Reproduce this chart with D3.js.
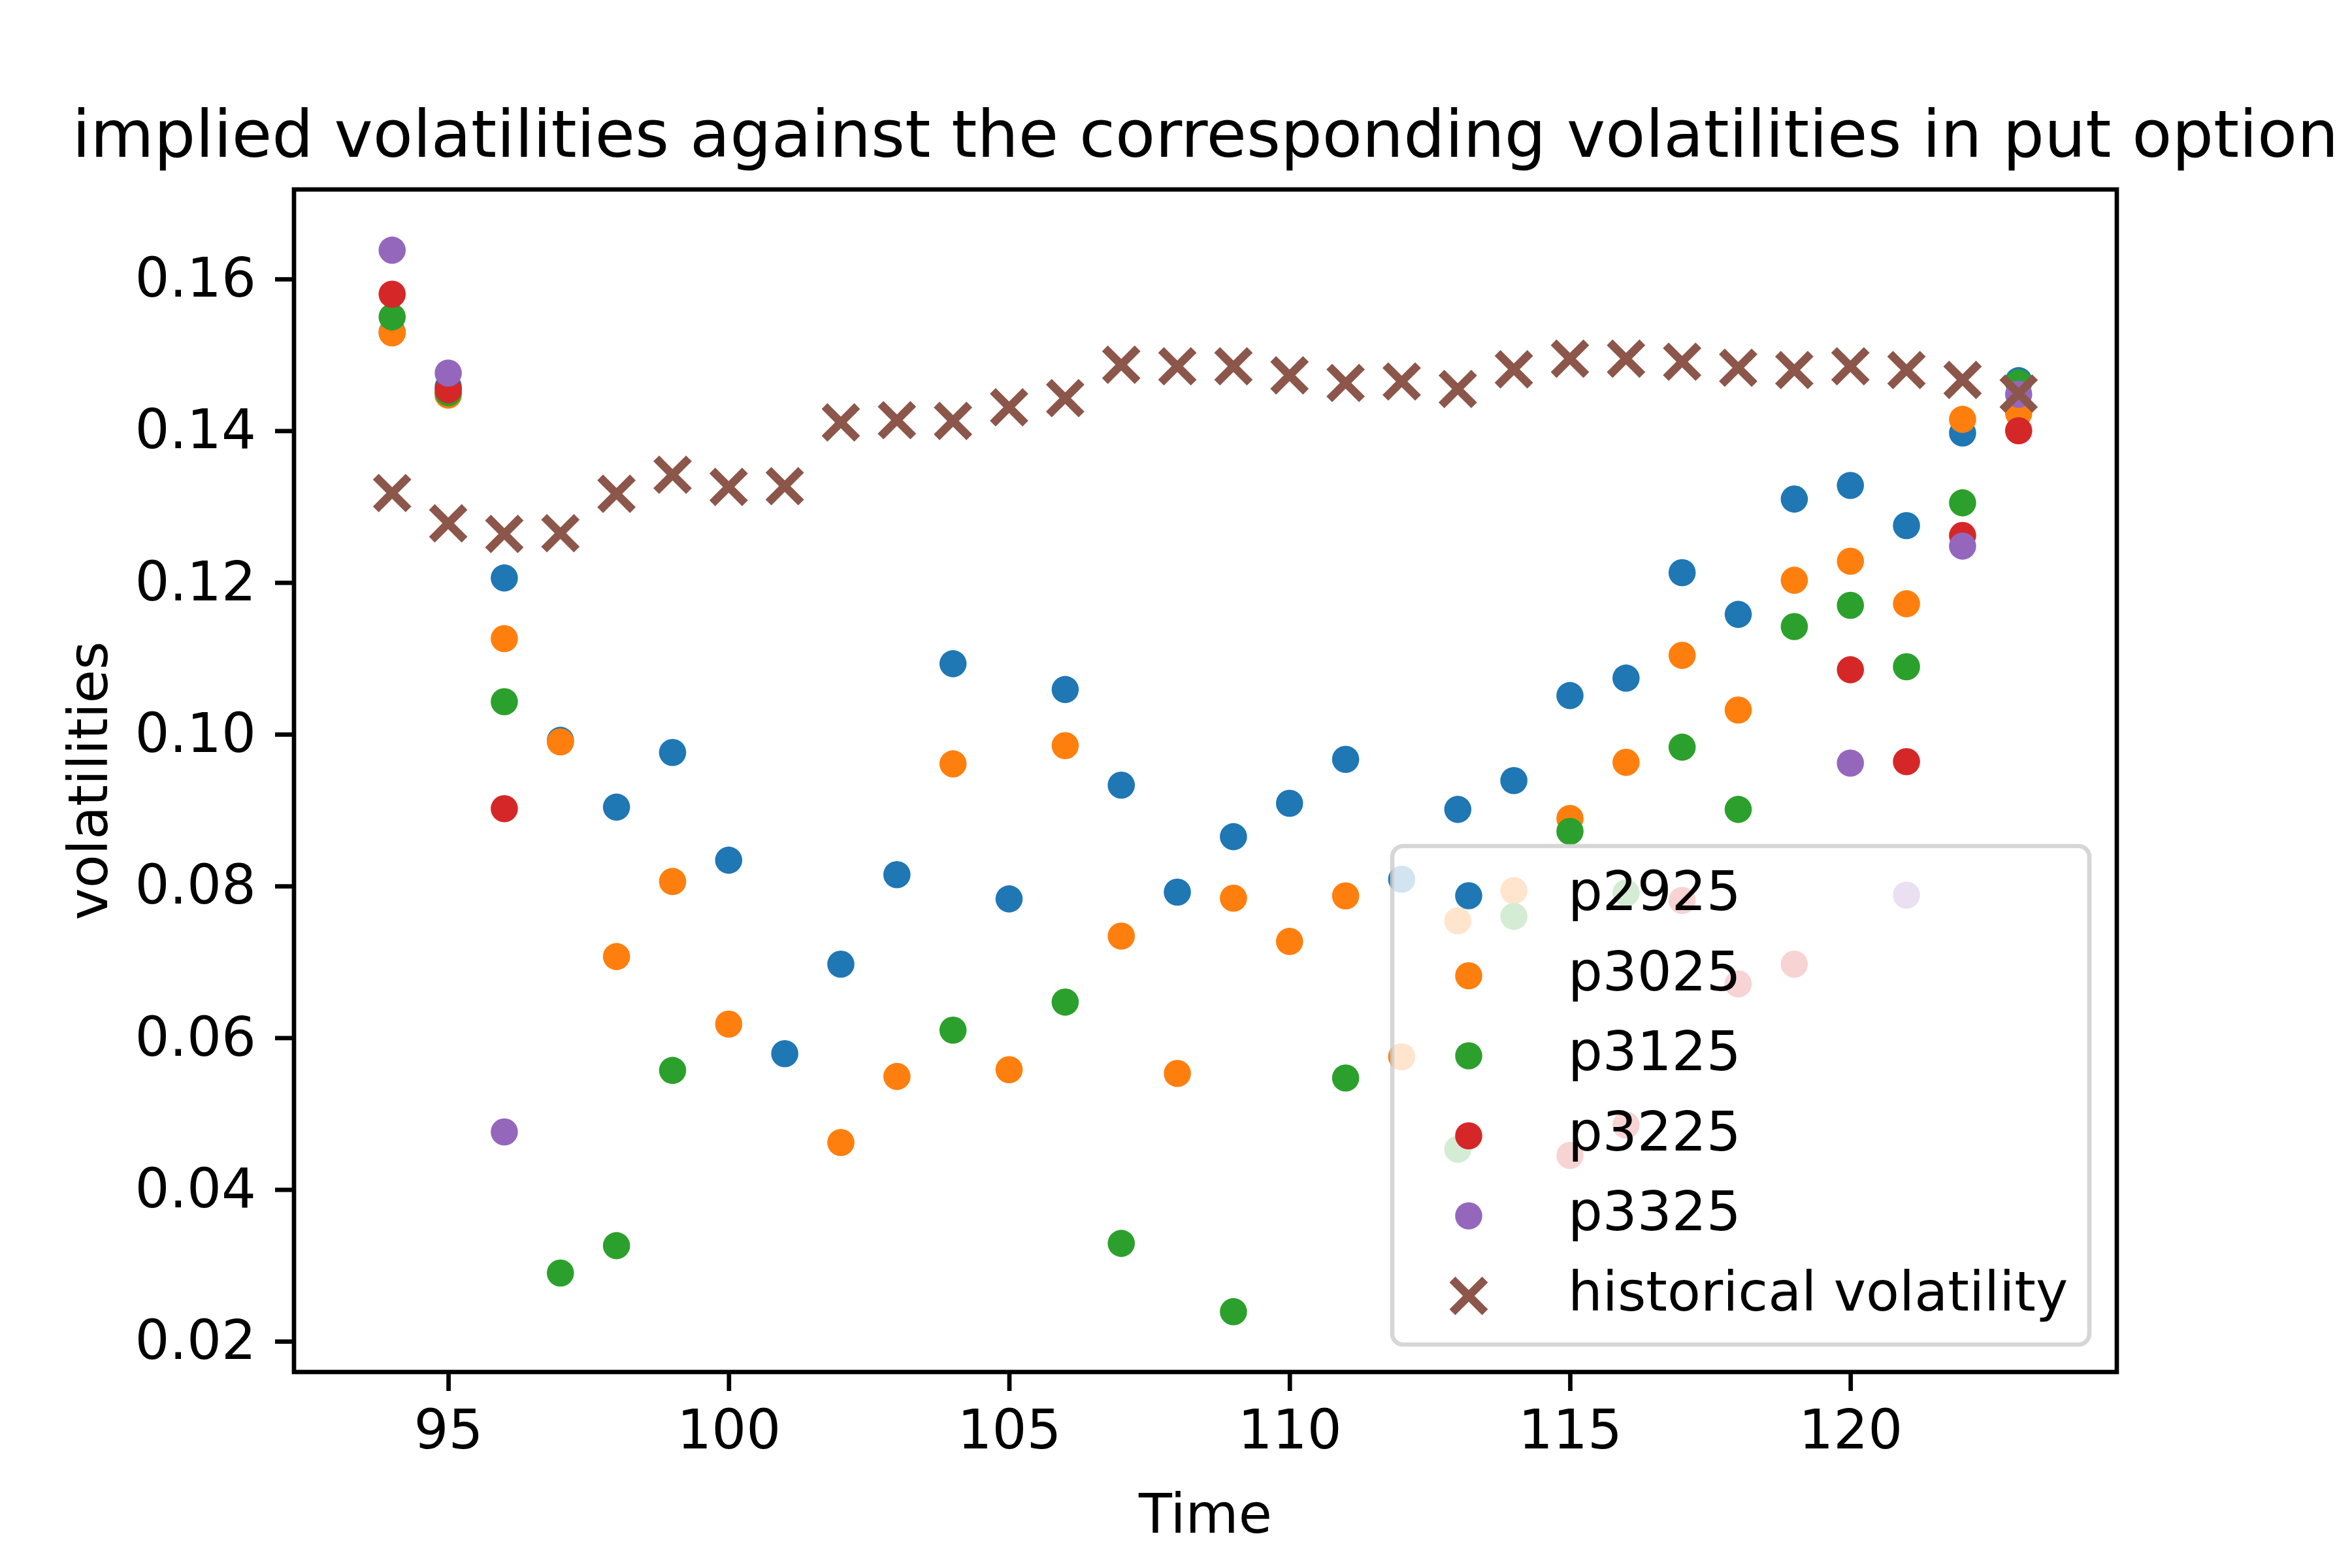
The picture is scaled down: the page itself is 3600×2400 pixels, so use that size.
<!DOCTYPE html>
<html>
<head>
<meta charset="utf-8">
<script src="https://cdn.jsdelivr.net/npm/d3@7"></script>
<style>
  body { margin: 0; background: #fff; }
  svg { display: block; }
  text { font-family: "DejaVu Sans", sans-serif; fill: #000; }
</style>
</head>
<body>
<svg id="chart" width="3600" height="2400"></svg>
<script>
// data (null = no point drawn)
var time = [94, 95, 96, 97, 98, 99, 100, 101, 102, 103, 104, 105, 106, 107, 108,
            109, 110, 111, 112, 113, 114, 115, 116, 117, 118, 119, 120, 121, 122, 123];

var p2925 = [0.1530, 0.1458, 0.1206, 0.0992, 0.0904, 0.0976, 0.0834, 0.0579, 0.0697, 0.0815,
             0.1093, 0.0783, 0.1059, 0.0933, 0.0792, 0.0865, 0.0909, 0.0967, 0.0809, 0.0901,
             0.0939, 0.1051, 0.1074, 0.1213, 0.1158, 0.1310, 0.1328, 0.1275, 0.1397, 0.1466];
var p3025 = [0.1529, 0.1447, 0.1126, 0.0990, 0.0707, 0.0806, 0.0618, null, 0.0462, 0.0549,
             0.0961, 0.0558, 0.0985, 0.0734, 0.0553, 0.0784, 0.0727, 0.0787, 0.0575, 0.0754,
             0.0794, 0.0889, 0.0963, 0.1104, 0.1032, 0.1203, 0.1228, 0.1172, 0.1415, 0.1423];
var p3125 = [0.1550, 0.1450, 0.1043, 0.0290, 0.0326, 0.0557, null, null, null, null,
             0.0610, null, 0.0647, 0.0329, null, 0.0239, null, 0.0547, null, 0.0453,
             0.0760, 0.0872, 0.0791, 0.0983, 0.0901, 0.1142, 0.1170, 0.1089, 0.1305, 0.1463];
var p3225 = [0.1580, 0.1454, 0.0902, null, null, null, null, null, null, null,
             null, null, null, null, null, null, null, null, null, null,
             null, 0.0445, 0.0485, 0.0781, 0.0671, 0.0697, 0.1085, 0.0964, 0.1262, 0.1400];
var p3325 = [0.1638, 0.1476, 0.0476, null, null, null, null, null, null, null,
             null, null, null, null, null, null, null, null, null, null,
             null, null, null, null, null, null, 0.0962, 0.0788, 0.1248, 0.1448];
var histVol = [0.1318, 0.1278, 0.1264, 0.1265, 0.1317, 0.1342, 0.1326, 0.1327, 0.1411, 0.1414,
               0.1413, 0.1431, 0.1443, 0.1487, 0.1485, 0.1485, 0.1473, 0.1463, 0.1465, 0.1455,
               0.1481, 0.1495, 0.1495, 0.1491, 0.1483, 0.1480, 0.1485, 0.1480, 0.1467, 0.1449];

var seriesNames = ["p2925", "p3025", "p3125", "p3225", "p3325"];
var seriesValues = [p2925, p3025, p3125, p3225, p3325];
var histName = "historical volatility";

var xTicks = [95, 100, 105, 110, 115, 120];
var yTicks = [0.02, 0.04, 0.06, 0.08, 0.10, 0.12, 0.14, 0.16];

var colors = ["#1f77b4", "#ff7f0e", "#2ca02c", "#d62728", "#9467bd", "#8c564b"];

// layout (pixels of the 3600x2400 page)
var axL = 450, axR = 3240, axT = 290, axB = 2100;
var fs = 83.3;          // 10pt at 600 dpi
var dotR = 20.8;
var crossA = 25, crossW = 12.5;

var svg = d3.select("#chart");

var x = d3.scaleLinear().domain([92.25, 124.75]).range([axL, axR]);
var y = d3.scaleLinear().domain([0.01595, 0.1718]).range([axB, axT]);

var plot = svg.append("g");

seriesValues.forEach(function(vals, i) {
  var pts = time.map(function(t, j) { return {t: t, v: vals[j]}; })
                .filter(function(d) { return d.v !== null; });
  plot.append("g").selectAll("circle")
    .data(pts)
    .enter().append("circle")
    .attr("cx", function(d) { return x(d.t); })
    .attr("cy", function(d) { return y(d.v); })
    .attr("r", dotR)
    .attr("fill", colors[i]);
});

function crossPath(cx, cy) {
  return "M" + (cx - crossA) + "," + (cy - crossA) + "L" + (cx + crossA) + "," + (cy + crossA) +
         "M" + (cx - crossA) + "," + (cy + crossA) + "L" + (cx + crossA) + "," + (cy - crossA);
}

plot.append("g").selectAll("path")
  .data(time.map(function(t, j) { return {t: t, v: histVol[j]}; }))
  .enter().append("path")
  .attr("d", function(d) { return crossPath(x(d.t), y(d.v)); })
  .attr("stroke", colors[5])
  .attr("stroke-width", crossW)
  .attr("fill", "none");

// axes
var xAxis = svg.append("g")
  .attr("transform", "translate(0," + axB + ")")
  .call(d3.axisBottom(x).tickValues(xTicks).tickSize(29).tickPadding(29).tickFormat(d3.format("d")));
var yAxis = svg.append("g")
  .attr("transform", "translate(" + axL + ",0)")
  .call(d3.axisLeft(y).tickValues(yTicks).tickSize(29).tickPadding(29).tickFormat(d3.format(".2f")));

[xAxis, yAxis].forEach(function(g) {
  g.select(".domain").remove();
  g.selectAll(".tick line").attr("stroke", "#000").attr("stroke-width", 6.7);
  g.selectAll(".tick text").attr("font-size", fs).attr("font-family", "DejaVu Sans");
});

svg.append("rect")
  .attr("x", axL).attr("y", axT)
  .attr("width", axR - axL).attr("height", axB - axT)
  .attr("fill", "none").attr("stroke", "#000").attr("stroke-width", 6.7);

// labels
svg.append("text")
  .attr("x", (axL + axR) / 2).attr("y", 240)
  .attr("text-anchor", "middle").attr("font-size", 100)
  .text("implied volatilities against the corresponding volatilities in put option");

svg.append("text")
  .attr("x", (axL + axR) / 2).attr("y", 2346)
  .attr("text-anchor", "middle").attr("font-size", fs)
  .text("Time");

svg.append("text")
  .attr("transform", "translate(164," + ((axT + axB) / 2) + ") rotate(-90)")
  .attr("text-anchor", "middle").attr("font-size", fs)
  .text("volatilities");

// legend
var legX = 2131, legY = 1295, legW = 3198 - 2131, legH = 2058 - 1295;
var leg = svg.append("g");
leg.append("rect")
  .attr("x", legX).attr("y", legY).attr("width", legW).attr("height", legH)
  .attr("rx", 16.7).attr("ry", 16.7)
  .attr("fill", "#fff").attr("fill-opacity", 0.8)
  .attr("stroke", "#cccccc").attr("stroke-opacity", 0.8).attr("stroke-width", 6.7);

var rowY0 = 1371, rowStep = 122.5, markX = 2248, textX = 2400;
var legItems = seriesNames.concat([histName]);
legItems.forEach(function(name, i) {
  var cy = rowY0 + i * rowStep;
  if (i < 5) {
    leg.append("circle").attr("cx", markX).attr("cy", cy).attr("r", dotR).attr("fill", colors[i]);
  } else {
    leg.append("path").attr("d", crossPath(markX, cy))
      .attr("stroke", colors[5]).attr("stroke-width", crossW).attr("fill", "none");
  }
  leg.append("text").attr("x", textX).attr("y", cy + 22)
    .attr("font-size", fs).text(name);
});
</script>
</body>
</html>
